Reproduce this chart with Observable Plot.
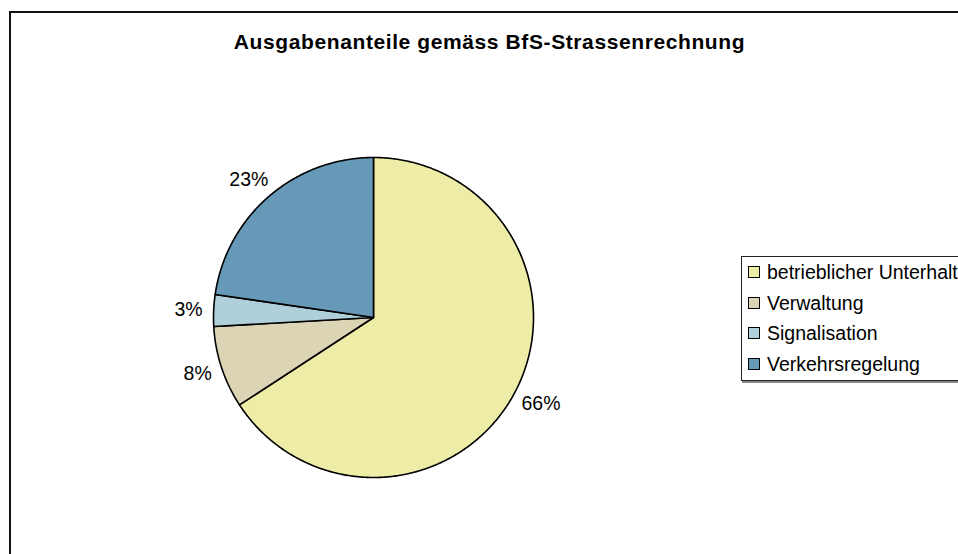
<!DOCTYPE html>
<html>
<head>
<meta charset="utf-8">
<script src="https://cdn.jsdelivr.net/npm/d3@7"></script>
<script src="https://cdn.jsdelivr.net/npm/@observablehq/plot@0.6"></script>
<style>
  html, body { margin: 0; padding: 0; background: #fff; overflow: hidden; }
  #wrap { position: relative; width: 958px; height: 554px; overflow: hidden; font-family: "Liberation Sans", Arial, sans-serif; }
  #frame { position: absolute; left: 9px; top: 11px; width: 1000px; height: 600px; border: 2px solid #111; box-sizing: border-box; }
  #chart { position: absolute; left: 0; top: 0; }
  #title { position: absolute; left: 0; width: 979px; top: 30px; text-align: center; font-weight: bold; font-size: 21px; letter-spacing: 0.6px; color: #000; white-space: nowrap; }
  #legend { position: absolute; left: 741px; top: 256px; width: 260px; height: 125px; border: 1px solid #222; box-sizing: border-box; background: #fff; box-shadow: 1px 2px 0 #888; }
  .row { position: absolute; left: 6px; height: 24px; font-size: 19.5px; line-height: 24px; white-space: nowrap; color: #000; }
  .sw { display: inline-block; width: 10px; height: 10px; border: 1px solid #000; vertical-align: middle; margin-right: 7px; position: relative; top: -2px; }
</style>
</head>
<body>
<div id="wrap">
  <div id="frame"></div>
  <div id="chart"></div>
  <div id="title">Ausgabenanteile gemäss BfS-Strassenrechnung</div>
  <div id="legend"></div>
</div>
<script>
const categories = ["betrieblicher Unterhalt", "Verwaltung", "Signalisation", "Verkehrsregelung"];
const shares = [65.8, 8.3, 3.2, 22.7];
const labels = ["66%", "8%", "3%", "23%"];
const colors = ["#EDEDA8", "#DCD5B5", "#AFCFDA", "#6698B8"];

const R = 160;            // pie radius in px (layout)
const labelGap = 11;      // px gap between pie edge and label box
const labelFont = 19.5;

const pie = d3.pie().sort(null).value(d => d)(shares);

// polygon points for each slice, in unit-circle coordinates (angle clockwise from 12 o'clock)
const slices = pie.map((p) => {
  const n = Math.max(2, Math.ceil((p.endAngle - p.startAngle) / (Math.PI / 360)));
  const pts = [{x: 0, y: 0}];
  for (let k = 0; k <= n; k++) {
    const a = p.startAngle + (p.endAngle - p.startAngle) * k / n;
    pts.push({x: Math.sin(a), y: Math.cos(a)});
  }
  pts.push({x: 0, y: 0});
  return pts;
});

// measure label widths so the label box sits just outside the pie edge
const ctx = document.createElement("canvas").getContext("2d");
ctx.font = `${labelFont}px "Liberation Sans", Arial, sans-serif`;
const labelMarks = pie.map((p, i) => {
  const a = (p.startAngle + p.endAngle) / 2;
  const ux = Math.sin(a), uy = Math.cos(a);
  const w = ctx.measureText(labels[i]).width;
  const h = labelFont * 1.1;
  const k = 1 + labelGap / R;
  return Plot.text([{x: k * ux, y: k * uy, text: labels[i]}], {
    x: "x", y: "y", text: "text", fontSize: labelFont, fill: "#000",
    textAnchor: "middle", lineAnchor: "middle",
    dx: ux * w / 2, dy: -uy * h / 2
  });
});

const plot = Plot.plot({
  width: 958,
  height: 554,
  margin: 0,
  style: {background: "transparent", fontFamily: "Liberation Sans, Arial, sans-serif"},
  x: {domain: [-1, 1], range: [373 - R, 373 + R], axis: null},
  y: {domain: [-1, 1], range: [317 + R, 317 - R], axis: null},
  marks: [
    ...slices.map((pts, i) => Plot.line(pts, {x: "x", y: "y", fill: colors[i], stroke: "#000", strokeWidth: 1.6, strokeLinejoin: "round", curve: "linear"})),
    ...labelMarks
  ]
});
document.getElementById("chart").appendChild(plot);

const legend = document.getElementById("legend");
categories.forEach((c, i) => {
  const row = document.createElement("div");
  row.className = "row";
  row.style.top = (3 + i * 30.7) + "px";
  const sw = document.createElement("span");
  sw.className = "sw";
  sw.style.background = colors[i];
  row.appendChild(sw);
  row.appendChild(document.createTextNode(c));
  legend.appendChild(row);
});
</script>
</body>
</html>
